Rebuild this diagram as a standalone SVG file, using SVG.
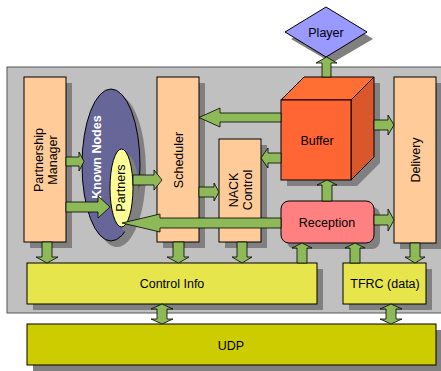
<svg xmlns="http://www.w3.org/2000/svg" width="441" height="371" viewBox="0 0 441 371">
  <style>
    .box { fill: #FFCC99; stroke: #000; stroke-width: 1; }
    .shadow { fill: #808080; }
    .ctl { fill: #E6E64C; stroke: #000; stroke-width: 1; }
    .arr { fill: #8DB958; stroke: #000; stroke-width: 0.8; stroke-linejoin: miter; }
    text { font-family: "Liberation Sans", Arial, sans-serif; font-size: 12.5px; fill: #000; text-anchor: middle; }
    .white { fill: #fff; font-weight: bold; }
  </style>

  <!-- host frame -->
  <rect x="7" y="67" width="440" height="246" fill="#C0C0C0" stroke="#555" stroke-width="1"/>

  <g id="player">
    <polygon class="shadow" points="291,39 332,13 373,39 332,63"/>
    <polygon points="285,32 326,7 367,32 326,57" fill="#9999FF" stroke="#000" stroke-width="1"/>
    <text x="326" y="36.5">Player</text>
  </g>

  <g id="partnership-manager">
    <rect class="shadow" x="30" y="83" width="42" height="165"/>
    <rect class="box" x="24" y="77" width="42" height="165"/>
    <g transform="translate(45,160) rotate(-90)">
      <text x="0" y="-2.5">Partnership</text>
      <text x="0" y="11.5">Manager</text>
    </g>
  </g>

  <g id="known-nodes">
    <ellipse class="shadow" cx="117" cy="171" rx="29" ry="76"/>
    <ellipse cx="111" cy="165" rx="29" ry="76" fill="#666699" stroke="#000" stroke-width="1"/>
    <text class="white" transform="translate(96.5,157) rotate(-90)" x="0" y="4.5">Known Nodes</text>
  </g>

  <g id="partners">
    <ellipse class="shadow" cx="127.5" cy="194" rx="11.5" ry="39"/>
    <ellipse cx="121.5" cy="188" rx="11.5" ry="39" fill="#FFFF99" stroke="#000" stroke-width="1"/>
    <text transform="translate(120,188) rotate(-90)" x="0" y="4.5">Partners</text>
  </g>

  <g id="scheduler">
    <rect class="shadow" x="163" y="83" width="42" height="165"/>
    <rect class="box" x="157" y="77" width="42" height="165"/>
    <text transform="translate(178.5,160) rotate(-90)" x="0" y="4.5">Scheduler</text>
  </g>

  <g id="nack-control">
    <rect class="shadow" x="225" y="145" width="42" height="103"/>
    <rect class="box" x="219" y="139" width="42" height="103"/>
    <g transform="translate(240,190) rotate(-90)">
      <text x="0" y="-2.5">NACK</text>
      <text x="0" y="11.5">Control</text>
    </g>
  </g>

  <g id="buffer">
    <polygon class="shadow" points="287,106 310,83 380,83 380,163 357,186 287,186"/>
    <polygon points="281,100 304,77 374,77 351,100" fill="#FF6F33" stroke="#000" stroke-width="1"/>
    <polygon points="351,100 374,77 374,157 351,180" fill="#D9572B" stroke="#000" stroke-width="1"/>
    <rect x="281" y="100" width="70" height="80" fill="#FF6633" stroke="#000" stroke-width="1"/>
    <text x="317" y="144.5">Buffer</text>
  </g>

  <g id="delivery">
    <rect class="shadow" x="400" y="83" width="42" height="166"/>
    <rect class="box" x="394" y="77" width="42" height="166"/>
    <text transform="translate(415,160) rotate(-90)" x="0" y="4.5">Delivery</text>
  </g>

  <g id="reception">
    <rect class="shadow" x="287" y="207" width="93" height="42" rx="8"/>
    <rect x="281" y="201" width="93" height="42" rx="8" fill="#FF8080" stroke="#000" stroke-width="1"/>
    <text x="327" y="226.5">Reception</text>
  </g>

  <g id="control-info">
    <rect class="shadow" x="33" y="269" width="290" height="41"/>
    <rect class="ctl" x="27" y="263" width="290" height="41"/>
    <text x="172" y="287.5">Control Info</text>
  </g>

  <g id="tfrc">
    <rect class="shadow" x="349" y="269" width="83" height="41"/>
    <rect class="ctl" x="343" y="263" width="83" height="41"/>
    <text x="385" y="287.5">TFRC (data)</text>
  </g>

  <g id="udp">
    <rect class="shadow" x="33" y="330" width="409" height="41"/>
    <rect x="27" y="324" width="409" height="41" fill="#CCCC00" stroke="#000" stroke-width="1"/>
    <text x="231" y="349.5">UDP</text>
  </g>

  <!-- block arrows between components -->
  <g id="connectors">
    <path class="arr" d="M66 157 H79 V152 L84 161.5 L79 171 V166 H66 Z"/>
    <path class="arr" d="M66 202 H98 V196 L110 207 L98 218 V212 H66 Z"/>
    <path class="arr" d="M133 175 H154 V170 L162 180 L154 190 V185 H133 Z"/>
    <path class="arr" d="M199 187 H214 V183 L219 192 L214 201 V197 H199 Z"/>
    <path class="arr" d="M281 113 H220 V108 L199 117.5 L220 127 V122 H281 Z"/>
    <path class="arr" d="M281 153 H268 V148 L261 158 L268 168 V163 H281 Z"/>
    <path class="arr" d="M281 218 H160 V214 L122 223 L160 232 V228 H281 Z"/>
    <path class="arr" d="M374 120 H388 V115 L394 125 L388 135 V130 H374 Z"/>
    <path class="arr" d="M374 215 H388 V209 L394 220 L388 231 V225 H374 Z"/>
    <path class="arr" d="M322 77 V63 H316 L326.5 57 L337 63 H331 V77 Z"/>
    <path class="arr" d="M322 201 V185 H317 L327 180 L337 185 H332 V201 Z"/>
    <path class="arr" d="M297 263 V248 H292 L302 243 L312 248 H307 V263 Z"/>
    <path class="arr" d="M350 263 V248 H345 L355 243 L365 248 H360 V263 Z"/>
    <path class="arr" d="M237 242 V257 H232 L242 263 L252 257 H247 V242 Z"/>
    <path class="arr" d="M410 243 V257 H405 L415 263 L425 257 H420 V243 Z"/>
    <path class="arr" d="M173 242 V257 H167 L178.5 263 L189 257 H184 V242 Z"/>
    <path class="arr" d="M42 242 V257 H36 L47 263 L58 257 H52 V242 Z"/>
    <path class="arr" d="M157 309 H151 L162 304 L173 309 H167 V319 H173 L162 324 L151 319 H157 Z"/>
    <path class="arr" d="M386 309 H380 L391 304 L402 309 H396 V319 H402 L391 324 L380 319 H386 Z"/>
  </g>
</svg>
